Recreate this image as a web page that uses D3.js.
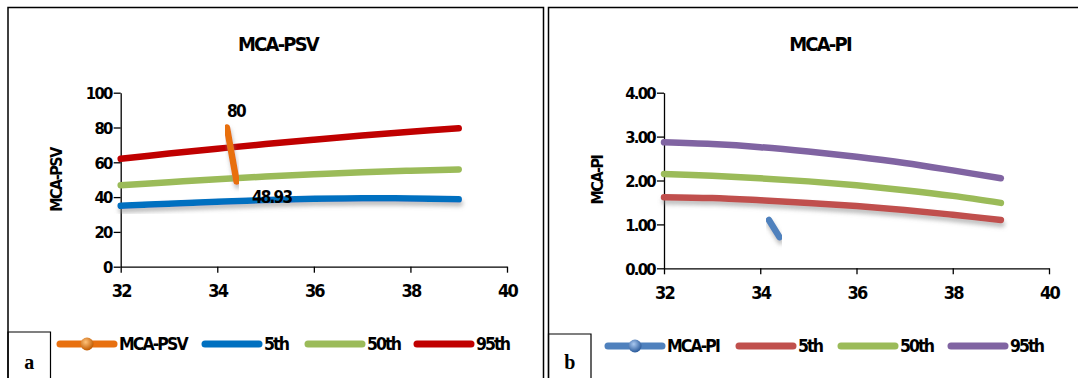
<!DOCTYPE html>
<html>
<head>
<meta charset="utf-8">
<script src="https://cdn.jsdelivr.net/npm/d3@7"></script>
<style>
    body { margin: 0; background: #fff; }
    text { font-family: "Liberation Sans Narrow", "DejaVu Sans Condensed", Arial, sans-serif; font-weight: bold; fill: #000; }
</style>
</head>
<body>
<div id="chart"></div>
<script>
const weeks = [32, 33, 34, 35, 36, 37, 38, 39];
const xTicks = [32, 34, 36, 38, 40];

const psv5 = [35.0, 36.2, 37.3, 38.3, 39.0, 39.3, 39.2, 38.7];
const psv50 = [46.8, 48.6, 50.3, 51.8, 53.1, 54.3, 55.2, 55.9];
const psv95 = [62.0, 65.0, 67.8, 70.5, 73.0, 75.4, 77.6, 79.6];
const psvMeasured = [[34.2, 80], [34.4, 48.93]];
const psvTicks = [0, 20, 40, 60, 80, 100];

const pi5 = [1.62, 1.60, 1.55, 1.49, 1.42, 1.33, 1.22, 1.10];
const pi50 = [2.15, 2.11, 2.05, 1.98, 1.89, 1.78, 1.65, 1.49];
const pi95 = [2.87, 2.83, 2.76, 2.66, 2.54, 2.40, 2.23, 2.05];
const piMeasured = [[34.18, 1.10], [34.4, 0.71]];
const piTicks = [0, 1, 2, 3, 4];

const width = 1078;
const height = 378;

const svg = d3.select("#chart")
    .append("svg")
    .attr("width", width)
    .attr("height", height);

const defs = svg.append("defs");

// soft grey shadow like the excel chart
defs.append("filter")
    .attr("id", "shadow")
    .attr("x", "-20%").attr("y", "-50%")
    .attr("width", "140%").attr("height", "250%")
    .append("feDropShadow")
    .attr("dx", 1).attr("dy", 4)
    .attr("stdDeviation", 2)
    .attr("flood-color", "#888")
    .attr("flood-opacity", 0.55);

function ballGradient(id, light, dark) {
    const g = defs.append("radialGradient")
        .attr("id", id)
        .attr("cx", "40%").attr("cy", "35%").attr("r", "65%");
    g.append("stop").attr("offset", "0%").attr("stop-color", light);
    g.append("stop").attr("offset", "100%").attr("stop-color", dark);
}
ballGradient("ballOrange", "#ffc27a", "#c05a00");
ballGradient("ballBlue", "#a9c8f0", "#2a5a9a");

function drawPanel(p) {
    const g = svg.append("g");

    // frame
    g.append("path")
        .attr("d", p.frame)
        .attr("fill", "none")
        .attr("stroke", "#000")
        .attr("stroke-width", 1.5);

    // letter box
    g.append("path")
        .attr("d", `M${p.box[0]},${height} V${p.box[1]} H${p.box[2]} V${height}`)
        .attr("fill", "none")
        .attr("stroke", "#000")
        .attr("stroke-width", 1.2);
    g.append("text")
        .attr("x", (p.box[0] + p.box[2]) / 2)
        .attr("y", 369)
        .attr("text-anchor", "middle")
        .style("font-family", "'Liberation Serif', 'Times New Roman', serif")
        .style("font-size", "20px")
        .text(p.letter);

    const x = d3.scaleLinear().domain([32, 40]).range(p.xRange);
    const y = d3.scaleLinear().domain(p.yDomain).range(p.yRange);

    g.append("text")
        .attr("x", p.titleX)
        .attr("y", 51)
        .attr("text-anchor", "middle")
        .style("font-size", "20px")
        .style("letter-spacing", "-1.8px")
        .text(p.title);

    const yAxis = g.append("g")
        .attr("transform", `translate(${p.xRange[0]},0)`)
        .call(d3.axisLeft(y).tickValues(p.yTicks).tickSize(7).tickSizeOuter(0).tickFormat(p.yFormat));
    const xAxis = g.append("g")
        .attr("transform", `translate(0,${p.yRange[0]})`)
        .call(d3.axisBottom(x).tickValues(xTicks).tickSize(6).tickSizeOuter(0));

    [yAxis, xAxis].forEach(a => {
        a.select(".domain").attr("stroke", "#000").attr("stroke-width", 1.3);
        a.selectAll(".tick line").attr("stroke", "#000").attr("stroke-width", 1.3);
        a.selectAll(".tick text")
            .style("font-family", "'Liberation Sans Narrow', 'DejaVu Sans Condensed', Arial, sans-serif");
    });
    yAxis.selectAll(".tick text")
        .attr("x", -9).attr("dy", "0.35em")
        .style("font-size", "16.5px")
        .style("letter-spacing", "-1.7px");
    xAxis.selectAll(".tick text")
        .attr("y", 18)
        .style("font-size", "18px")
        .style("letter-spacing", "-1.8px");

    g.append("text")
        .attr("transform", `translate(${p.yTitleX},180) rotate(-90)`)
        .attr("text-anchor", "middle")
        .attr("dy", "0.35em")
        .style("font-size", "16px")
        .style("letter-spacing", "-1.5px")
        .text(p.title);

    const line = d3.line()
        .x(d => x(d[0]))
        .y(d => y(d[1]))
        .curve(d3.curveCatmullRom);

    p.series.forEach(s => {
        g.append("path")
            .datum(weeks.map((w, i) => [w, s.values[i]]))
            .attr("d", line)
            .attr("fill", "none")
            .attr("stroke", s.color)
            .attr("stroke-width", 6.5)
            .attr("stroke-linecap", "round")
            .attr("filter", s.shadow ? "url(#shadow)" : null);
    });

    g.append("path")
        .datum(p.measured)
        .attr("d", d3.line().x(d => x(d[0])).y(d => y(d[1])))
        .attr("fill", "none")
        .attr("stroke", p.measuredColor)
        .attr("stroke-width", 6.5)
        .attr("stroke-linecap", "round")
        .attr("filter", "url(#shadow)");

    if (p.showLabels) {
        g.selectAll(".dlabel")
            .data(p.measured)
            .enter()
            .append("text")
            .attr("class", "dlabel")
            .attr("x", (d, i) => x(d[0]) + (i === 0 ? 9 : 35))
            .attr("y", (d, i) => y(d[1]) + (i === 0 ? -11 : 21))
            .attr("text-anchor", "middle")
            .style("font-size", "17px")
            .style("letter-spacing", "-1.8px")
            .text(d => d[1]);
    }

    // legend
    const legendItems = [{ name: p.title, color: p.measuredColor, ball: p.ball }]
        .concat(p.series.map(s => ({ name: s.name, color: s.color })));
    const lg = g.selectAll(".legend")
        .data(legendItems)
        .enter()
        .append("g")
        .attr("class", "legend")
        .attr("transform", (d, i) => `translate(${p.legendX[i]},${p.legendY})`);
    lg.append("line")
        .attr("x1", 0).attr("x2", 54)
        .attr("stroke", d => d.color)
        .attr("stroke-width", 7)
        .attr("stroke-linecap", "round");
    lg.filter(d => d.ball)
        .append("circle")
        .attr("cx", 27)
        .attr("r", 6.5)
        .attr("fill", d => `url(#${d.ball})`);
    lg.append("text")
        .attr("x", 59)
        .attr("dy", "0.35em")
        .style("font-size", "17.5px")
        .style("letter-spacing", "-1.9px")
        .text(d => d.name);
}

drawPanel({
    frame: "M8,378 V7.5 H543.5 V378",
    box: [8, 332, 50.5],
    letter: "a",
    title: "MCA-PSV",
    titleX: 278,
    yTitleX: 56,
    xRange: [120.7, 507],
    yRange: [266.7, 92.7],
    yDomain: [0, 100],
    yTicks: psvTicks,
    yFormat: d3.format("d"),
    measured: psvMeasured,
    measuredColor: "#E8700F",
    ball: "ballOrange",
    showLabels: true,
    series: [
        { name: "5th", values: psv5, color: "#0070C0", shadow: true },
        { name: "50th", values: psv50, color: "#9BBB59" },
        { name: "95th", values: psv95, color: "#C00000" }
    ],
    legendX: [60, 205, 308, 417],
    legendY: 344
});

drawPanel({
    frame: "M548.5,378 V7.5 H1078",
    box: [548.5, 334, 591],
    letter: "b",
    title: "MCA-PI",
    titleX: 820,
    yTitleX: 597,
    xRange: [664, 1049],
    yRange: [268.3, 92.7],
    yDomain: [0, 4],
    yTicks: piTicks,
    yFormat: d3.format(".2f"),
    measured: piMeasured,
    measuredColor: "#4F81BD",
    ball: "ballBlue",
    showLabels: false,
    series: [
        { name: "5th", values: pi5, color: "#C0504D", shadow: true },
        { name: "50th", values: pi50, color: "#9BBB59" },
        { name: "95th", values: pi95, color: "#8064A2" }
    ],
    legendX: [608, 739, 841, 951],
    legendY: 346
});
</script>
</body>
</html>
